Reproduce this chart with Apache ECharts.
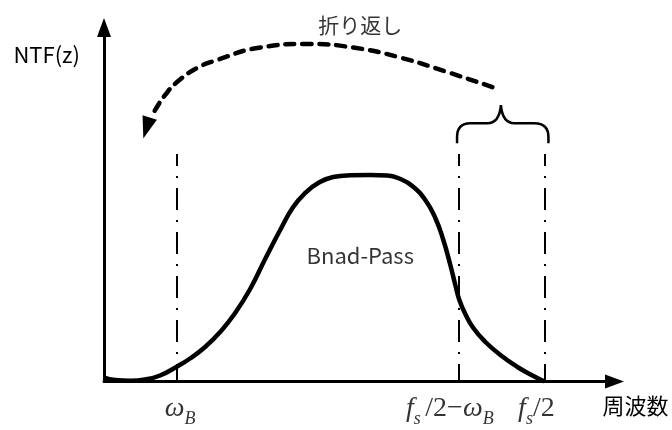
<!DOCTYPE html>
<html><head><meta charset="utf-8">
<script src="https://cdn.jsdelivr.net/npm/echarts@6/dist/echarts.min.js"></script>
<style>html,body{margin:0;padding:0;background:#fff}#c{width:672px;height:430px}</style>
</head><body><div id="c"></div>
<script>
// Band-pass NTF curve (arbitrary units, x: 0..100, y: 0..100)
const curveX = [0, 2.16, 5.10, 8.04, 10.98, 14.25, 16.86, 19.80, 22.75, 25.69, 28.63, 31.57, 34.51, 37.06, 39.41, 41.96, 44.90, 48.24, 52.16, 55.49, 58.04, 60.39, 62.94, 64.90, 66.47, 67.84, 68.82, 69.61, 70.78, 72.35, 74.71, 77.65, 80.98, 84.12, 86.27];
const curveY = [1.13, 0.42, 0.2, 0.56, 1.69, 4.18, 6.50, 9.75, 13.98, 19.35, 26.13, 34.60, 42.80, 49.29, 53.25, 56.07, 57.77, 58.25, 58.33, 58.19, 57.20, 55.23, 51.27, 46.19, 39.97, 32.91, 27.26, 23.02, 19.07, 15.11, 11.16, 7.49, 4.10, 1.55, 0];
// marker frequencies: ω_B, fs/2−ω_B, fs/2
const markX = [14.25, 69.4, 86.3];
const markTop = 64.3;
const markLabels = ['{i|ω}{s|B}', '{i|f}{s|s }{r|/2−}{i|ω}{s|B}', '{i|f}{s|s}{r|/2}'];
const markLabelX = [14.9, 67.75, 84.7];
const markLabelY = -7.9;
// folding arrow (dashed arc)
const arcX = [76.08, 67.25, 58.04, 48.82, 39.80, 30.0, 22.16, 18.24, 14.31, 11.96, 10.0, 9.22];
const arcY = [83.17, 87.41, 91.51, 94.34, 95.33, 94.2, 90.81, 88.56, 84.58, 80.9, 76.66, 74.68];
const arrowHead = [8.33, 71.6];
// brace over fs/2−ω_B .. fs/2
const braceX = [69.16, 69.16, 69.16, 71.76, 75.1, 77.45, 77.75, 78.04, 80.39, 84.31, 87.06, 87.06, 87.06];
const braceY = [67.33, 69.02, 72.98, 72.98, 72.98, 72.98, 78.08, 72.98, 72.98, 72.98, 72.98, 69.02, 67.33];
// free texts
const noteTexts = ['折り返し', 'Bnad-Pass'];
const noteX = [50.2, 50.2];
const noteY = [100.7, 35.6];

const chart = echarts.init(document.getElementById('c'));
const black = '#000';
const jp = 'Noto Sans CJK JP';
const mathRich = {
  i: {fontFamily: 'Liberation Serif', fontStyle: 'italic', fontSize: 28, lineHeight: 30, verticalAlign: 'top', color: black},
  r: {fontFamily: 'Liberation Serif', fontSize: 28, lineHeight: 30, verticalAlign: 'top', color: black},
  s: {fontFamily: 'Liberation Serif', fontStyle: 'italic', fontSize: 18, lineHeight: 18, padding: [16, 0, 0, 0], verticalAlign: 'top', color: black}
};

chart.setOption({
  animation: false,
  backgroundColor: '#fff',
  grid: {left: 104, right: 57.5, top: 27.5, bottom: 48.5, containLabel: false, outerBoundsMode: 'none'},
  xAxis: {
    type: 'value', min: 0, max: 100,
    name: '周波数', nameLocation: 'end', nameGap: -12,
    nameTextStyle: {fontFamily: jp, fontSize: 22, color: black, align: 'left', verticalAlign: 'top', lineHeight: 22, padding: [13, 0, 0, 0]},
    axisLine: {show: true, onZero: false, symbol: ['none', 'triangle'], symbolSize: [14, 19], lineStyle: {color: black, width: 3}},
    axisTick: {show: false}, axisLabel: {show: false}, splitLine: {show: false}
  },
  yAxis: {
    type: 'value', min: 0, max: 100,
    name: 'NTF(z)', nameLocation: 'end', nameGap: -27.5,
    nameTextStyle: {fontFamily: jp, fontSize: 22, color: black, align: 'right', verticalAlign: 'middle', padding: [0, 24, 0, 0]},
    axisLine: {show: true, onZero: false, symbol: ['none', 'triangle'], symbolSize: [14, 19], lineStyle: {color: black, width: 3}},
    axisTick: {show: false}, axisLabel: {show: false}, splitLine: {show: false}
  },
  series: [
    {
      type: 'line', smooth: 0.5, symbol: 'none', silent: true,
      data: curveX.map((x, i) => [x, curveY[i]]),
      lineStyle: {color: black, width: 4.5},
      markLine: {
        silent: true, symbol: ['none', 'none'], label: {show: false},
        lineStyle: {color: black, width: 2, type: [22, 10, 2, 10], dashOffset: 10},
        data: markX.map(x => [{coord: [x, markTop]}, {coord: [x, 0]}])
      }
    },
    {
      type: 'line', smooth: 0.5, symbol: 'none', silent: true,
      data: arcX.map((x, i) => [x, arcY[i]]),
      lineStyle: {color: black, width: 4.5, type: [9, 8], cap: 'round'},
      markPoint: {
        silent: true, symbol: 'triangle', symbolSize: [15, 22], symbolRotate: 163,
        itemStyle: {color: black}, label: {show: false},
        data: [{coord: arrowHead}]
      }
    },
    {
      type: 'custom', coordinateSystem: 'cartesian2d', silent: true, clip: false,
      data: [[0, 0]],
      renderItem: function (params, api) {
        const p = braceX.map((x, i) => api.coord([x, braceY[i]]));
        const d = 'M' + p[0] + ' L' + p[1] + ' Q' + p[2] + ' ' + p[3] + ' L' + p[4] +
          ' Q' + p[5] + ' ' + p[6] + ' Q' + p[7] + ' ' + p[8] + ' L' + p[9] +
          ' Q' + p[10] + ' ' + p[11] + ' L' + p[12];
        return {type: 'path', shape: {pathData: d}, style: {fill: 'none', stroke: black, lineWidth: 2.5}};
      }
    },
    {
      type: 'scatter', silent: true, clip: false, symbolSize: 1,
      itemStyle: {color: 'rgba(0,0,0,0)'},
      data: noteTexts.map((t, i) => ({
        value: [noteX[i], noteY[i]],
        label: {show: true, position: 'inside', formatter: () => t, fontFamily: jp, fontSize: i === 0 ? 21 : 22, color: black}
      })).concat(markLabels.map((t, i) => ({
        value: [markLabelX[i], markLabelY],
        label: {show: true, position: 'inside', formatter: () => t, rich: mathRich}
      })))
    }
  ]
});
</script></body></html>
